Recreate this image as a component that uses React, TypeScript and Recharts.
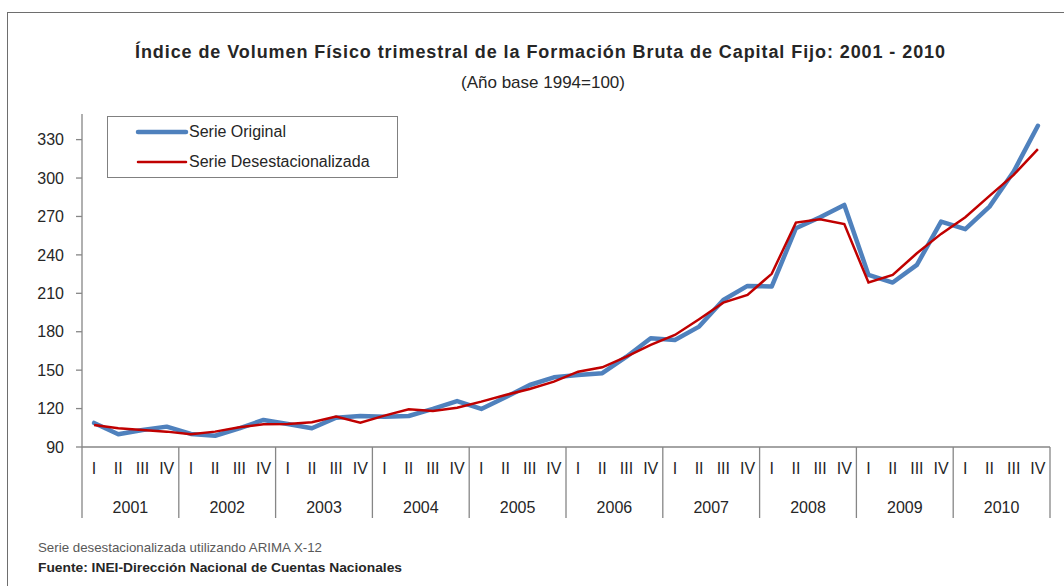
import { LineChart, Line, XAxis, YAxis, Legend } from "recharts";

const YEARS = ["2001", "2002", "2003", "2004", "2005", "2006", "2007", "2008", "2009", "2010"];
const QUARTERS = ["I", "II", "III", "IV"];
const Y_TICKS = [90, 120, 150, 180, 210, 240, 270, 300, 330];

const ORIGINAL = [
  108.8, 99.9, 103.3, 105.9,
  100.2, 98.8, 104.6, 111.1,
  108.0, 104.6, 112.9, 114.2,
  113.7, 114.2, 119.7, 125.9,
  119.7, 128.8, 138.4, 144.4,
  146.2, 147.6, 160.5, 174.9,
  173.6, 184.0, 204.8, 215.8,
  215.3, 260.8, 269.4, 279.0,
  224.4, 218.4, 232.2, 266.0,
  260.1, 277.7, 305.1, 340.8,
];

const DESEST = [
  107.2, 104.6, 103.3, 102.0,
  99.9, 102.0, 105.4, 107.7,
  108.0, 109.3, 113.7, 109.0,
  114.5, 119.4, 118.1, 120.7,
  125.4, 130.6, 135.3, 141.0,
  148.8, 152.2, 160.5, 169.7,
  177.5, 189.8, 202.7, 208.8,
  225.2, 265.2, 267.9, 264.0,
  218.4, 224.4, 241.3, 256.4,
  269.4, 286.1, 302.5, 322.6,
];

const data = YEARS.flatMap((year, yi) =>
  QUARTERS.map((q, qi) => ({
    key: `${year}-${q}`,
    year,
    q,
    original: ORIGINAL[yi * 4 + qi],
    desest: DESEST[yi * 4 + qi],
  }))
);

const W = 1064;
const H = 586;
const MARGIN = { top: 114, right: 14, bottom: 68, left: 0 };
const Y_AXIS_W = 82;
const X_AXIS_H = 71;
const BAND = (W - MARGIN.left - MARGIN.right - Y_AXIS_W) / data.length;

const FONT = "'Liberation Sans', Arial, sans-serif";
const AXIS_GREY = "#868686";
const TEXT = "#262626";
const BLUE = "#4F81BD";
const RED = "#C00000";

// two-level category axis: quarter row, then year row with separators
const QuarterTick = (props: any) => {
  const { x, y, payload } = props;
  const i = payload.index;
  const row = data[i];
  const qi = i % 4;
  return (
    <g>
      <text x={x} y={y + 21} textAnchor="middle" dominantBaseline="central" fontSize={16} fontFamily={FONT} fill={TEXT}>
        {row.q}
      </text>
      {qi === 0 && (
        <>
          <line x1={x - BAND / 2} x2={x - BAND / 2} y1={y} y2={y + X_AXIS_H} stroke={AXIS_GREY} strokeWidth={1.3} />
          <text x={x + 1.5 * BAND} y={y + 60} textAnchor="middle" dominantBaseline="central" fontSize={16} fontFamily={FONT} fill={TEXT}>
            {row.year}
          </text>
        </>
      )}
      {i === data.length - 1 && (
        <line x1={x + BAND / 2} x2={x + BAND / 2} y1={y} y2={y + X_AXIS_H} stroke={AXIS_GREY} strokeWidth={1.3} />
      )}
    </g>
  );
};

const LegendBox = () => (
  <div
    style={{
      position: "relative",
      width: 291,
      height: 62,
      border: "1.5px solid #808080",
      boxSizing: "border-box",
      background: "#fff",
      fontFamily: FONT,
      fontSize: 16,
      color: TEXT,
    }}
  >
    {[
      { label: "Serie Original", color: BLUE, w: 4.5 },
      { label: "Serie Desestacionalizada", color: RED, w: 2.5 },
    ].map((it, k) => (
      <div key={it.label} style={{ position: "absolute", left: 27, top: 5 + k * 30, height: 20, display: "flex", alignItems: "center" }}>
        <svg width={54} height={20} style={{ display: "block" }}>
          <line x1={3} x2={51} y1={10} y2={10} stroke={it.color} strokeWidth={it.w} strokeLinecap="round" />
        </svg>
        <span style={{ whiteSpace: "nowrap" }}>{it.label}</span>
      </div>
    ))}
  </div>
);

export default function App() {
  return (
    <div style={{ position: "absolute", left: 0, top: 0, width: W, height: H, overflow: "hidden", background: "#fff" }}>
      <div
        style={{
          position: "absolute",
          left: 7,
          top: 12,
          width: W,
          height: H,
          border: "1.5px solid #6e6e6e",
          boxSizing: "border-box",
        }}
      />
      <svg width={W} height={H} style={{ position: "absolute", left: 0, top: 0 }}>
        <text
          x={540}
          y={52}
          textAnchor="middle"
          dominantBaseline="central"
          fontFamily={FONT}
          fontWeight="bold"
          fontSize={18}
          fill={TEXT}
          textLength={810}
          lengthAdjust="spacing"
        >
          Índice de Volumen Físico trimestral de la Formación Bruta de Capital Fijo: 2001 - 2010
        </text>
        <text x={543} y={82} textAnchor="middle" dominantBaseline="central" fontFamily={FONT} fontSize={17} fill={TEXT}>
          (Año base 1994=100)
        </text>
        <text x={38} y={547} dominantBaseline="central" fontFamily={FONT} fontSize={13} fill="#595959" textLength={284} lengthAdjust="spacingAndGlyphs">
          Serie desestacionalizada utilizando ARIMA X-12
        </text>
        <text x={38} y={567} dominantBaseline="central" fontFamily={FONT} fontSize={13} fontWeight="bold" fill={TEXT} textLength={364} lengthAdjust="spacingAndGlyphs">
          Fuente: INEI-Dirección Nacional de Cuentas Nacionales
        </text>
      </svg>
      <div style={{ position: "absolute", left: 0, top: 0 }}>
        <LineChart width={W} height={H} data={data} margin={MARGIN}>
          <XAxis
            dataKey="key"
            interval={0}
            height={X_AXIS_H}
            padding={{ left: BAND / 2, right: BAND / 2 }}
            tickLine={false}
            tickSize={0}
            tickMargin={0}
            axisLine={{ stroke: AXIS_GREY, strokeWidth: 1.3 }}
            tick={<QuarterTick />}
          />
          <YAxis
            width={Y_AXIS_W}
            domain={[90, 350]}
            ticks={Y_TICKS}
            interval={0}
            allowDataOverflow
            tickSize={6}
            tickMargin={12}
            tickLine={{ stroke: AXIS_GREY, strokeWidth: 1.3 }}
            axisLine={{ stroke: AXIS_GREY, strokeWidth: 1.3 }}
            tick={{ fontSize: 16, fontFamily: FONT, fill: TEXT }}
          />
          <Legend
            layout="horizontal"
            verticalAlign="middle"
            align="center"
            content={<LegendBox />}
            wrapperStyle={{ position: "absolute", left: 107, top: 116, width: 291, height: 62 }}
          />
          <Line
            type="linear"
            dataKey="original"
            name="Serie Original"
            stroke={BLUE}
            strokeWidth={4.5}
            strokeLinejoin="round"
            strokeLinecap="round"
            dot={false}
            activeDot={false}
            isAnimationActive={false}
          />
          <Line
            type="linear"
            dataKey="desest"
            name="Serie Desestacionalizada"
            stroke={RED}
            strokeWidth={2.5}
            dot={false}
            activeDot={false}
            isAnimationActive={false}
          />
        </LineChart>
      </div>
    </div>
  );
}
